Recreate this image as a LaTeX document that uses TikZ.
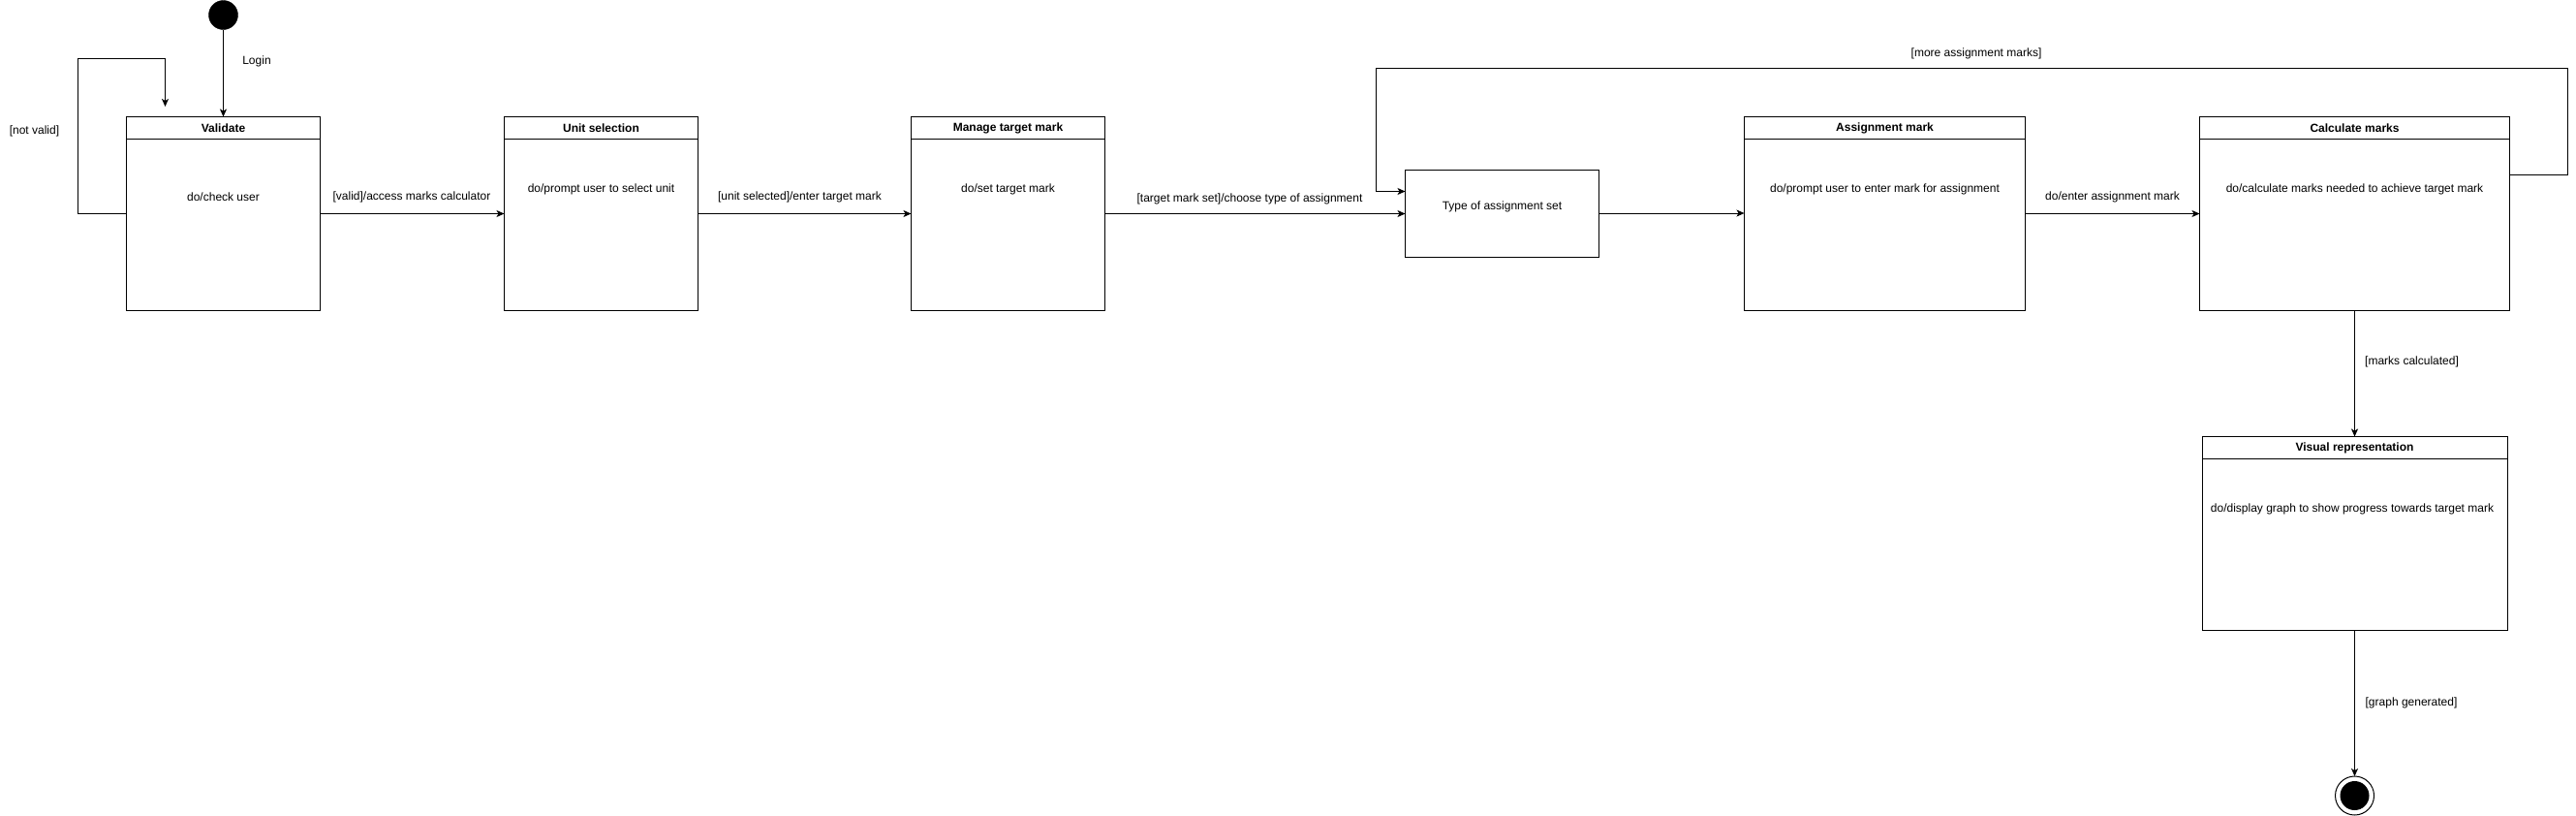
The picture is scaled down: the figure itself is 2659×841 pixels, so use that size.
\documentclass[tikz,border=0pt]{standalone}
\usepackage{fontspec}
\setmainfont{Liberation Sans}
\usetikzlibrary{arrows.meta}
\tikzset{
  statebox/.style={draw, line width=1pt, rectangle, inner sep=0pt, outer sep=0pt, fill=white},
  titletext/.style={font=\fontsize{12}{14}\selectfont\bfseries, inner sep=0pt},
  txt/.style={font=\fontsize{12}{14}\selectfont, inner sep=0pt},
  conn/.style={line width=1pt, -{Stealth[length=8pt,width=7pt,inset=2pt]}},
  hline/.style={line width=1pt},
}
\begin{document}
\begin{tikzpicture}[x=1pt,y=-1pt]
\useasboundingbox (0,0) rectangle (2659,841);

% initial state
\node[circle, fill=black, draw=black, minimum size=30pt, inner sep=0pt, outer sep=0pt] (init) at (230.5,15.5) {};

% Validate
\node[statebox, minimum width=200pt, minimum height=200pt] (validate) at (230.5,220.5) {};
\draw[hline] ([yshift=-23pt]validate.north west) -- ([yshift=-23pt]validate.north east);
\node[titletext] (validate-t) at ([yshift=-11.5pt]validate.north) {Validate};
\node[txt] (validate-b) at (230.5,203) {do/check user};

% Unit selection
\node[statebox, minimum width=200pt, minimum height=200pt] (unitsel) at (620.5,220.5) {};
\draw[hline] ([yshift=-23pt]unitsel.north west) -- ([yshift=-23pt]unitsel.north east);
\node[titletext] (unitsel-t) at ([yshift=-11.5pt]unitsel.north) {Unit selection};
\node[txt] (unitsel-b) at (620.5,195) {do/prompt user to select unit};

% Manage target mark
\node[statebox, minimum width=200pt, minimum height=200pt] (manage) at (1040.5,220.5) {};
\draw[hline] ([yshift=-23pt]manage.north west) -- ([yshift=-23pt]manage.north east);
\node[titletext] (manage-t) at ([yshift=-11.5pt]manage.north) {Manage target mark};
\node[txt] (manage-b) at (1040.5,195) {do/set target mark};

% Type of assignment set
\node[statebox, minimum width=200pt, minimum height=90pt] (typeset) at (1550.5,220) {};
\node[txt] (typeset-b) at (1550.5,213) {Type of assignment set};

% Assignment mark
\node[statebox, minimum width=290pt, minimum height=200pt] (assign) at (1945.5,220.5) {};
\draw[hline] ([yshift=-23pt]assign.north west) -- ([yshift=-23pt]assign.north east);
\node[titletext] (assign-t) at ([yshift=-11.5pt]assign.north) {Assignment mark};
\node[txt] (assign-b) at (1945.5,195) {do/prompt user to enter mark for assignment};

% Calculate marks
\node[statebox, minimum width=320pt, minimum height=200pt] (calc) at (2430.5,220.5) {};
\draw[hline] ([yshift=-23pt]calc.north west) -- ([yshift=-23pt]calc.north east);
\node[titletext] (calc-t) at ([yshift=-11.5pt]calc.north) {Calculate marks};
\node[txt] (calc-b) at (2430.5,195) {do/calculate marks needed to achieve target mark};

% Visual representation
\node[statebox, minimum width=315pt, minimum height=200pt] (visual) at (2430.5,550.5) {};
\draw[hline] ([yshift=-23pt]visual.north west) -- ([yshift=-23pt]visual.north east);
\node[titletext] (visual-t) at ([yshift=-11.5pt]visual.north) {Visual representation};
\node[txt] (visual-b) at (2428,525) {do/display graph to show progress towards target mark};

% final state
\node[circle, draw=black, line width=1pt, fill=white, minimum size=40pt, inner sep=0pt, outer sep=0pt] (final) at (2430.5,821) {};
\node[circle, fill=black, minimum size=30pt, inner sep=0pt] (final-in) at (final.center) {};

% connectors
\draw[conn] (init) -- (validate.north);
\node[txt] (l-login) at (265,63) {Login};

\coordinate (nv-tip) at (170.5,110);
\draw[conn] (validate.west) -- (80.5,220.5) -- (80.5,60.5) -- (170.5,60.5) -- (nv-tip);
\node[txt] (l-notvalid) at (35.5,135) {[not valid]};

\draw[conn] (validate.east) -- (unitsel.west);
\node[txt] (l-valid) at (425,203) {[valid]/access marks calculator};

\draw[conn] (unitsel.east) -- (manage.west);
\node[txt] (l-unit) at (825.5,203) {[unit selected]/enter target mark};

\draw[conn] (manage.east) -- (manage.east -| typeset.west);
\node[txt] (l-target) at (1290,205) {[target mark set]/choose type of assignment};

\draw[conn] (typeset.east) -- (typeset.east -| assign.west);

\draw[conn] (assign.east) -- (calc.west);
\node[txt] (l-enter) at (2180.5,203) {do/enter assignment mark};

\coordinate (more-in) at (typeset.west |- 0,197.5);
\draw[conn] (calc.east |- 0,180.5) -- (2650.5,180.5) -- (2650.5,70.5) -- (1420.5,70.5) -- (1420.5,197.5) -- (more-in);
\node[txt] (l-more) at (2040,55) {[more assignment marks]};

\draw[conn] (calc.south) -- (visual.north);
\node[txt] (l-calc) at (2489.5,373) {[marks calculated]};

\draw[conn] (visual.south) -- (final.north);
\node[txt] (l-graph) at (2489,725) {[graph generated]};
\end{tikzpicture}
\end{document}
